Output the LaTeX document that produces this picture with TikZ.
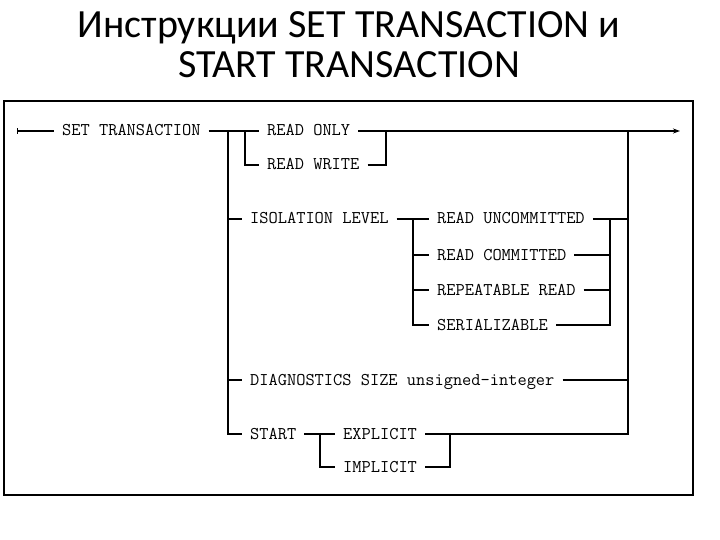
\documentclass[tikz,border=0pt]{standalone}
\usepackage{fontspec}
\setmainfont{Carlito}
\usetikzlibrary{arrows.meta}

\begin{document}
\begin{tikzpicture}[
    x=1pt, y=-1pt,
    line cap=butt,
    line join=miter,
    rail/.style={line width=1.1pt},
    kw/.style={font=\ttfamily\fontsize{17.9}{18}\selectfont, anchor=west,
        inner xsep=8pt, inner ysep=0pt, text height=10pt, text depth=0pt},
    title/.style={font=\fontsize{40}{44}\selectfont, anchor=base}
]

\useasboundingbox (0,0) rectangle (720,540);

% -----------------------------
% Title
% -----------------------------
\node[title] (t1) at (349,38) {Инструкции SET TRANSACTION и};
\node[title] (t2) at (349,78) {START TRANSACTION};

\draw[line width=2pt] (4,101) rectangle (693,495);

% -----------------------------
% Keywords
% -----------------------------
\node[kw] (set)  at (54,131)  {SET TRANSACTION};
\node[kw] (ro)   at (259,131) {READ ONLY};
\node[kw] (rw)   at (259,165) {READ WRITE};
\node[kw] (iso)  at (242,219) {ISOLATION LEVEL};
\node[kw] (ru)   at (429,219) {READ UNCOMMITTED};
\node[kw] (rc)   at (429,255) {READ COMMITTED};
\node[kw] (rr)   at (429,290) {REPEATABLE READ};
\node[kw] (ser)  at (429,325) {SERIALIZABLE};
\node[kw] (diag) at (242,380) {DIAGNOSTICS SIZE unsigned-integer};
\node[kw] (st)   at (242,434) {START};
\node[kw] (ex)   at (335,434) {EXPLICIT};
\node[kw] (im)   at (335,467) {IMPLICIT};

% -----------------------------
% Junctions
% -----------------------------
\coordinate (entry) at (17,131);
\coordinate (exit)  at (680,131);
\coordinate (mb) at (228,131);
\coordinate (me) at (628,131);
\coordinate (rb) at (245,131);
\coordinate (re) at (386,131);
\coordinate (ib) at (413,219);
\coordinate (ie) at (610,219);
\coordinate (sb) at (320,434);
\coordinate (se) at (450,434);

% -----------------------------
% Main rail
% -----------------------------
\draw[rail, {Bar[width=6pt]}-] (entry) -- (set.west);
\draw[rail] (set.east) -- (ro.west);
\draw[rail, -{Stealth[length=7pt,width=5pt]}] (ro.east) -- (exit);

\draw[rail] (rb) |- (rw.west);
\draw[rail] (rw.east) -| (re);

\draw[rail] (mb) |- (iso.west);
\draw[rail] (mb) |- (diag.west);
\draw[rail] (mb) |- (st.west);

% -----------------------------
% Isolation levels
% -----------------------------
\draw[rail] (iso.east) -- (ru.west);
\draw[rail] (ru.east) -| (me);
\foreach \lvl in {rc,rr,ser} {
    \draw[rail] (ib) |- (\lvl.west);
    \draw[rail] (\lvl.east) -| (ie);
}

% -----------------------------
% Diagnostics and start
% -----------------------------
\draw[rail] (diag.east) -| (me);
\draw[rail] (st.east) -- (ex.west);
\draw[rail] (ex.east) -| (me);
\draw[rail] (sb) |- (im.west);
\draw[rail] (im.east) -| (se);

\end{tikzpicture}
\end{document}
